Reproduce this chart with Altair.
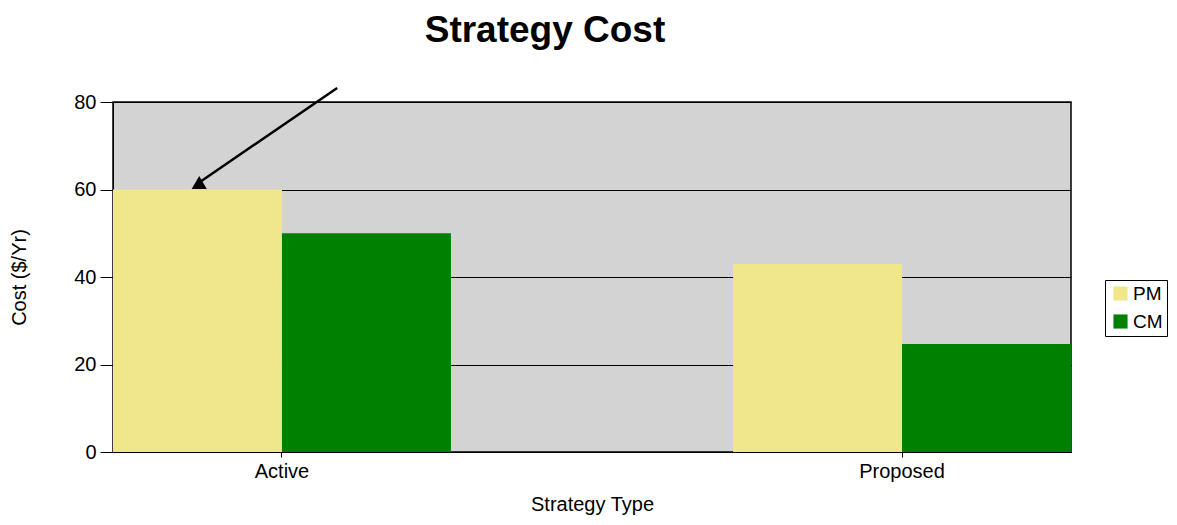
import altair as alt
import pandas as pd

categories = ["Active", "Proposed"]
series = ["PM", "CM"]
pm_values = [60, 43]
cm_values = [50, 24.7]
colors = ["#F0E68C", "#008000"]

# annotation arrow: x as fraction of plot width, y in cost units
arrow_x = [0.234, 0.09]
arrow_y = [83.2, 61.6]

rows = []
for i, c in enumerate(categories):
    rows.append({"Strategy": c, "Series": "PM", "Cost": pm_values[i]})
    rows.append({"Strategy": c, "Series": "CM", "Cost": cm_values[i]})
df = pd.DataFrame(rows)

arrow_df = pd.DataFrame({"ax": arrow_x, "ay": arrow_y, "order": [0, 1]})
head_df = pd.DataFrame({"ax": [arrow_x[1]], "ay": [arrow_y[1]]})

FONT = "Liberation Sans"
yscale = alt.Scale(domain=[0, 80], nice=False, zero=True)

bars = alt.Chart(df).mark_bar().encode(
    x=alt.X("Strategy:N", sort=categories,
            scale=alt.Scale(paddingInner=0.455, paddingOuter=0),
            axis=alt.Axis(title="Strategy Type", labelAngle=0, tickSize=5,
                          domainColor="black", tickColor="black",
                          labelColor="black", titleColor="black",
                          labelFontSize=20, titleFontSize=20,
                          labelFont=FONT, titleFont=FONT,
                          titleFontWeight="normal", labelPadding=4,
                          titlePadding=13, grid=False)),
    xOffset=alt.XOffset("Series:N", sort=series,
                        scale=alt.Scale(domain=series, paddingInner=0, paddingOuter=0)),
    y=alt.Y("Cost:Q", scale=yscale,
            axis=alt.Axis(title="Cost ($/Yr)", values=[0, 20, 40, 60, 80],
                          tickSize=13, grid=True, gridColor="black",
                          gridOpacity=1, gridWidth=1.2,
                          domainColor="black", tickColor="black",
                          labelColor="black", titleColor="black",
                          labelFontSize=20, titleFontSize=20,
                          labelFont=FONT, titleFont=FONT,
                          titleFontWeight="normal", labelPadding=4,
                          titlePadding=44)),
    color=alt.Color("Series:N", sort=series,
                    scale=alt.Scale(domain=series, range=colors),
                    legend=alt.Legend(title=None, orient="none",
                                      legendX=992, legendY=178,
                                      strokeColor="black", fillColor="white",
                                      padding=4, symbolType="square",
                                      symbolSize=200, symbolStrokeWidth=0,
                                      symbolOffset=2,
                                      labelFontSize=19, labelFont=FONT,
                                      labelOffset=3,
                                      labelColor="black", rowPadding=8,
                                      symbolOpacity=1)),
)

xq = alt.Scale(domain=[0, 1], nice=False, zero=False)

arrow_line = alt.Chart(arrow_df).mark_line(color="black", strokeWidth=2.5, clip=False).encode(
    x=alt.X("ax:Q", scale=xq, axis=None),
    y=alt.Y("ay:Q", scale=yscale),
    order="order:Q",
)

arrow_head = alt.Chart(head_df).mark_point(shape="triangle-up", filled=True,
                                           color="black", size=230, opacity=1,
                                           clip=False).encode(
    x=alt.X("ax:Q", scale=xq, axis=None),
    y=alt.Y("ay:Q", scale=yscale),
)

chart = alt.layer(bars, arrow_line, arrow_head).resolve_scale(
    x="independent"
).properties(
    width=958,
    height=350,
    autosize=alt.AutoSizeParams(type="none"),
    padding={"left": 105, "top": 94, "right": 98, "bottom": 65},
    title=alt.Title("Strategy Cost", fontSize=37, font=FONT, fontWeight="bold",
                    color="black", anchor="middle", frame="group",
                    dx=-47, offset=33),
).configure_view(
    fill="#D3D3D3", stroke="black", strokeWidth=1.5
)

chart.save("out.html", embed_options={"renderer": "svg", "actions": False})
